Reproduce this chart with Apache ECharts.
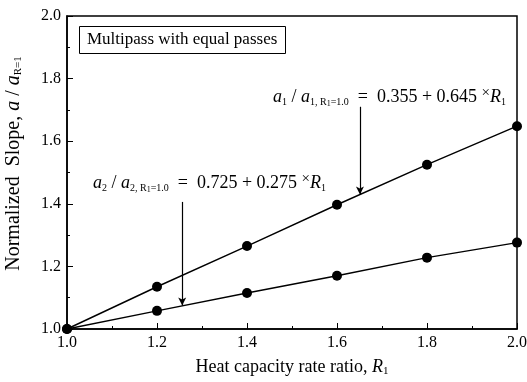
<!DOCTYPE html>
<html>
<head>
<meta charset="utf-8">
<script src="https://cdn.jsdelivr.net/npm/echarts@6/dist/echarts.min.js"></script>
<style>
  html, body { margin: 0; padding: 0; background: #fff; }
  #chart { width: 527px; height: 382px; }
</style>
</head>
<body>
<div id="chart"></div>
<script>
// heat capacity rate ratio R1
const ratios = [1.0, 1.2, 1.4, 1.6, 1.8, 2.0];
// normalized slope, pass 1 and pass 2
const slopePass1 = [1.0, 1.135, 1.265, 1.397, 1.525, 1.648];
const slopePass2 = [1.0, 1.058, 1.115, 1.17, 1.228, 1.276];
// arrow ends [x, yFrom, yTo]
const arrow1 = [1.651, 1.71, 1.43];
const arrow2 = [1.256, 1.406, 1.075];

const serif = 'Liberation Serif, Times New Roman, serif';
const chart = echarts.init(document.getElementById('chart'));

function pairs(xs, ys) {
    return xs.map(function (x, i) { return [x, ys[i]]; });
}

const xNameRich = {
    i: { fontFamily: serif, fontStyle: 'italic', fontSize: 18, color: '#000' },
    s: { fontFamily: serif, fontSize: 11, color: '#000', padding: [8, 0, 0, 0] }
};

const yNameRich = {
    i: { fontFamily: serif, fontStyle: 'italic', fontSize: 20, color: '#000' },
    s: { fontFamily: serif, fontSize: 11, color: '#000', padding: [9, 0, 0, 0] }
};

const formulaRich = {
    i: { fontFamily: serif, fontStyle: 'italic', fontSize: 18, color: '#000' },
    s: { fontFamily: serif, fontSize: 10, color: '#000', padding: [10, 0, 0, 0] },
    t: { fontFamily: serif, fontSize: 8, color: '#000', padding: [13, 0, 0, 0] },
    n: { fontFamily: serif, fontSize: 18, color: '#000' },
    x: { fontFamily: serif, fontSize: 15, color: '#000', padding: [0, 0, 7, 0] }
};

function arrowLine(a) {
    return [{ coord: [a[0], a[1]] }, { coord: [a[0], a[2]] }];
}

var option = {
    animation: false,
    backgroundColor: '#fff',
    grid: {
        left: 67,
        right: 10,
        top: 16,
        bottom: 53,
        containLabel: false,
        outerBoundsMode: 'none',
        show: true,
        borderColor: '#000',
        borderWidth: 1.5,
        backgroundColor: 'transparent'
    },
    xAxis: {
        type: 'value',
        min: 1.0,
        max: 2.0,
        interval: 0.2,
        name: 'Heat capacity rate ratio, {i|R}{s|1}',
        nameLocation: 'middle',
        nameGap: 29,
        nameTextStyle: {
            fontFamily: serif, fontSize: 18, color: '#000',
            rich: xNameRich
        },
        axisLine: { lineStyle: { color: '#000', width: 1.5 } },
        axisTick: { inside: true, length: 6, lineStyle: { color: '#000' } },
        minorTick: { show: true, splitNumber: 2, length: 3, lineStyle: { color: '#000' } },
        splitLine: { show: false },
        axisLabel: {
            fontFamily: serif, fontSize: 16, color: '#000', margin: 6,
            formatter: function (v) { return v.toFixed(1); }
        }
    },
    yAxis: {
        type: 'value',
        min: 1.0,
        max: 2.0,
        interval: 0.2,
        name: 'Normalized  Slope, {i|a} / {i|a}{s|R=1}',
        nameLocation: 'middle',
        nameGap: 43,
        nameTextStyle: {
            fontFamily: serif, fontSize: 20, color: '#000',
            padding: [0, 0, 0, 18],
            rich: yNameRich
        },
        axisLine: { lineStyle: { color: '#000', width: 1.5 } },
        axisTick: { inside: true, length: 6, lineStyle: { color: '#000' } },
        minorTick: { show: true, splitNumber: 2, length: 3, lineStyle: { color: '#000' } },
        splitLine: { show: false },
        axisLabel: {
            fontFamily: serif, fontSize: 16, color: '#000', margin: 6,
            formatter: function (v) { return v.toFixed(1); }
        }
    },
    series: [
        {
            name: 'pass 1',
            type: 'line',
            data: pairs(ratios, slopePass1),
            symbol: 'circle',
            symbolSize: 10,
            itemStyle: { color: '#000' },
            lineStyle: { color: '#000', width: 1.4 },
            markLine: {
                silent: true,
                symbol: ['none', 'arrow'],
                symbolSize: [6, 8],
                label: { show: false },
                lineStyle: { color: '#000', width: 1.2, type: 'solid' },
                data: [arrowLine(arrow1), arrowLine(arrow2)]
            }
        },
        {
            name: 'pass 2',
            type: 'line',
            data: pairs(ratios, slopePass2),
            symbol: 'circle',
            symbolSize: 10,
            itemStyle: { color: '#000' },
            lineStyle: { color: '#000', width: 1.4 }
        }
    ],
    graphic: [
        {
            type: 'rect',
            shape: { x: 79.5, y: 26.5, width: 206, height: 27 },
            style: { fill: '#fff', stroke: '#000', lineWidth: 1 }
        },
        {
            type: 'text',
            x: 87, y: 40,
            style: {
                text: 'Multipass with equal passes',
                font: '17px ' + serif,
                fill: '#000',
                verticalAlign: 'middle'
            }
        },
        {
            type: 'text',
            x: 273, y: 97,
            style: {
                text: '{i|a}{s|1} / {i|a}{s|1, R}{t|1}{s|=1.0}  =  {n|0.355 + 0.645 }{x|×}{i|R}{s|1}',
                fontFamily: serif,
                fontSize: 18,
                fill: '#000',
                verticalAlign: 'middle',
                rich: formulaRich
            }
        },
        {
            type: 'text',
            x: 93, y: 183,
            style: {
                text: '{i|a}{s|2} / {i|a}{s|2, R}{t|1}{s|=1.0}  =  {n|0.725 + 0.275 }{x|×}{i|R}{s|1}',
                fontFamily: serif,
                fontSize: 18,
                fill: '#000',
                verticalAlign: 'middle',
                rich: formulaRich
            }
        }
    ]
};

chart.setOption(option);
</script>
</body>
</html>
